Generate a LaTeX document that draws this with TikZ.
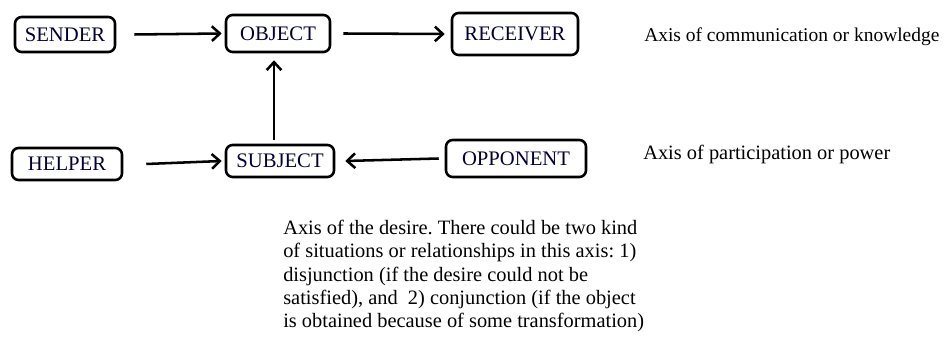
\documentclass[tikz,border=0pt]{standalone}
\usepackage{fontspec}
\setmainfont{Liberation Serif}
\usetikzlibrary{arrows.meta}
\frenchspacing
\begin{document}
\begin{tikzpicture}[x=0.75pt,y=-0.75pt,
  box/.style={draw,line width=1.9pt,rounded corners=5pt,inner sep=0pt,font=\fontsize{15.5}{18}\selectfont,text=black!80!blue},
  arr/.style={line width=1.9pt,-{Straight Barb[length=6pt,width=11pt,line width=1.9pt]}},
  lbl/.style={font=\fontsize{15.3}{17.5}\selectfont,inner sep=0pt,anchor=west}]
\useasboundingbox (0,0) rectangle (952,341);
\node[box,minimum width=100*0.75pt,minimum height=35*0.75pt] (sender) at (65,34.5) {SENDER};
\node[box,minimum width=104*0.75pt,minimum height=37*0.75pt] (object) at (278,33.5) {OBJECT};
\node[box,minimum width=126*0.75pt,minimum height=42*0.75pt] (receiver) at (515,34) {RECEIVER};
\node[box,minimum width=110*0.75pt,minimum height=32*0.75pt] (helper) at (67,164) {HELPER};
\node[box,minimum width=108*0.75pt,minimum height=32*0.75pt] (subject) at (280,161) {SUBJECT};
\node[box,minimum width=140*0.75pt,minimum height=37*0.75pt] (opponent) at (516,158.5) {OPPONENT};
\draw[arr] ([xshift=18*0.75pt]sender.east) -- ([xshift=-3*0.75pt]object.west);
\draw[arr] ([xshift=12*0.75pt]object.east) -- ([xshift=-6*0.75pt]receiver.west);
\draw[arr] ([xshift=23*0.75pt]helper.east) -- ([xshift=-3*0.75pt]subject.west);
\draw[arr] ([xshift=-6*0.75pt]opponent.west) -- ([xshift=10*0.75pt]subject.east);
\draw[arr] ([xshift=-6*0.75pt,yshift=4*0.75pt]subject.north) -- ([xshift=-4*0.75pt,yshift=-7*0.75pt]object.south);
\node[lbl,font=\fontsize{14.6}{17.5}\selectfont] (axis1) at (644,37) {Axis of communication or knowledge};
\node[lbl] (axis2) at (643,154) {Axis of participation or power};
\node[lbl,anchor=north west,align=left] (axis3) at (283,220) {Axis of the desire. There could be two kind\\of situations or relationships in this axis: 1)\\disjunction (if the desire could not be\\satisfied), and~ 2) conjunction (if the object\\is obtained because of some transformation)};
\end{tikzpicture}
\end{document}
